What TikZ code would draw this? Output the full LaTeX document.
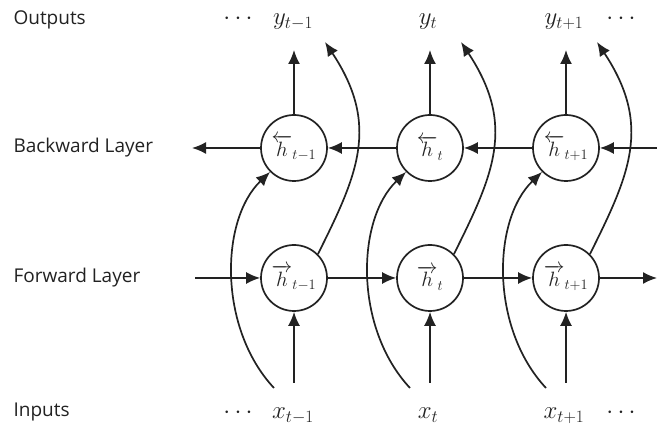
\documentclass[tikz,border=0pt]{standalone}
\usepackage[no-math]{fontspec}
\newfontfamily\labfont{Open Sans}
\usetikzlibrary{arrows.meta,backgrounds}
\definecolor{ink}{HTML}{222222}
\tikzset{
  cell/.style={circle,draw=ink,line width=1.7pt,minimum size=66pt,inner sep=0pt,fill=white,
    text=ink,font=\fontsize{20}{22}\selectfont},
  conn/.style={draw=ink,line width=1.7pt,-{Latex[length=14pt,width=12pt]}},
  rowlab/.style={anchor=west,font=\labfont\fontsize{19}{22}\selectfont,text=ink},
  mathlab/.style={anchor=base,font=\fontsize{24}{26}\selectfont,text=ink,inner sep=0pt}
}
\begin{document}
\begin{tikzpicture}[x=1pt,y=-1pt]
\begin{scope}[on background layer]
\fill[white] (0,0) rectangle (657,427);
\end{scope}
\useasboundingbox (0,0) rectangle (657,427);
% row labels
\node[rowlab] (lo) at (10,20) {Outputs};
\node[rowlab] (lb) at (10,148) {Backward Layer};
\node[rowlab] (lf) at (10,278) {Forward Layer};
\node[rowlab] (li) at (10,412) {Inputs};
% outputs and inputs
\node[mathlab] (y1) at (293,25) {$y_{t-1}$};
\node[mathlab] (y2) at (428,25) {$y_t$};
\node[mathlab] (y3) at (564,25) {$y_{t+1}$};
\node[mathlab] (yd1) at (238,25) {$\cdots$};
\node[mathlab] (yd2) at (621,25) {$\cdots$};
\node[mathlab] (x1) at (293,419) {$x_{t-1}$};
\node[mathlab] (x2) at (428,419) {$x_t$};
\node[mathlab] (x3) at (564,419) {$x_{t+1}$};
\node[mathlab] (xd1) at (238,419) {$\cdots$};
\node[mathlab] (xd2) at (621,419) {$\cdots$};
% cells
\node[cell] (b1) at (294,148) {$\overleftarrow{h}_{t-1}$};
\node[cell] (b2) at (430,148) {$\overleftarrow{h}_{t}$};
\node[cell] (b3) at (566,148) {$\overleftarrow{h}_{t+1}$};
\node[cell] (f1) at (294,278) {$\overrightarrow{h}_{t-1}$};
\node[cell] (f2) at (430,278) {$\overrightarrow{h}_{t}$};
\node[cell] (f3) at (566,278) {$\overrightarrow{h}_{t+1}$};
% coordinates
\coordinate (bl) at (192,148);
\coordinate (br) at (657,148);
\coordinate (fl) at (195,278);
\coordinate (fr) at (657,278);
\foreach \i/\x in {1/294,2/430,3/566}{
  \coordinate (in\i) at (\x,383);
  \coordinate (out\i) at (\x,50);
  \coordinate (cs\i) at (\x-20,388);
  \coordinate (ce\i) at (\x+31,42);
}
% horizontal connectors
\draw[conn] (br) -- (b3);
\draw[conn] (b3) -- (b2);
\draw[conn] (b2) -- (b1);
\draw[conn] (b1) -- (bl);
\draw[conn] (fl) -- (f1);
\draw[conn] (f1) -- (f2);
\draw[conn] (f2) -- (f3);
\draw[conn] (f3) -- (fr);
% vertical connectors
\foreach \i in {1,2,3}{
  \draw[conn] (in\i) -- (f\i);
  \draw[conn] (b\i) -- (out\i);
}
% curved connectors
\begin{scope}[on background layer]
\foreach \i in {1,2,3}{
  \draw[conn] (cs\i) .. controls +(-56,-60) and +(-50,48) .. (b\i.225);
  \draw[conn] (f\i.45) .. controls +(40,-80) and +(55,83) .. (ce\i);
}
\end{scope}
\end{tikzpicture}
\end{document}
